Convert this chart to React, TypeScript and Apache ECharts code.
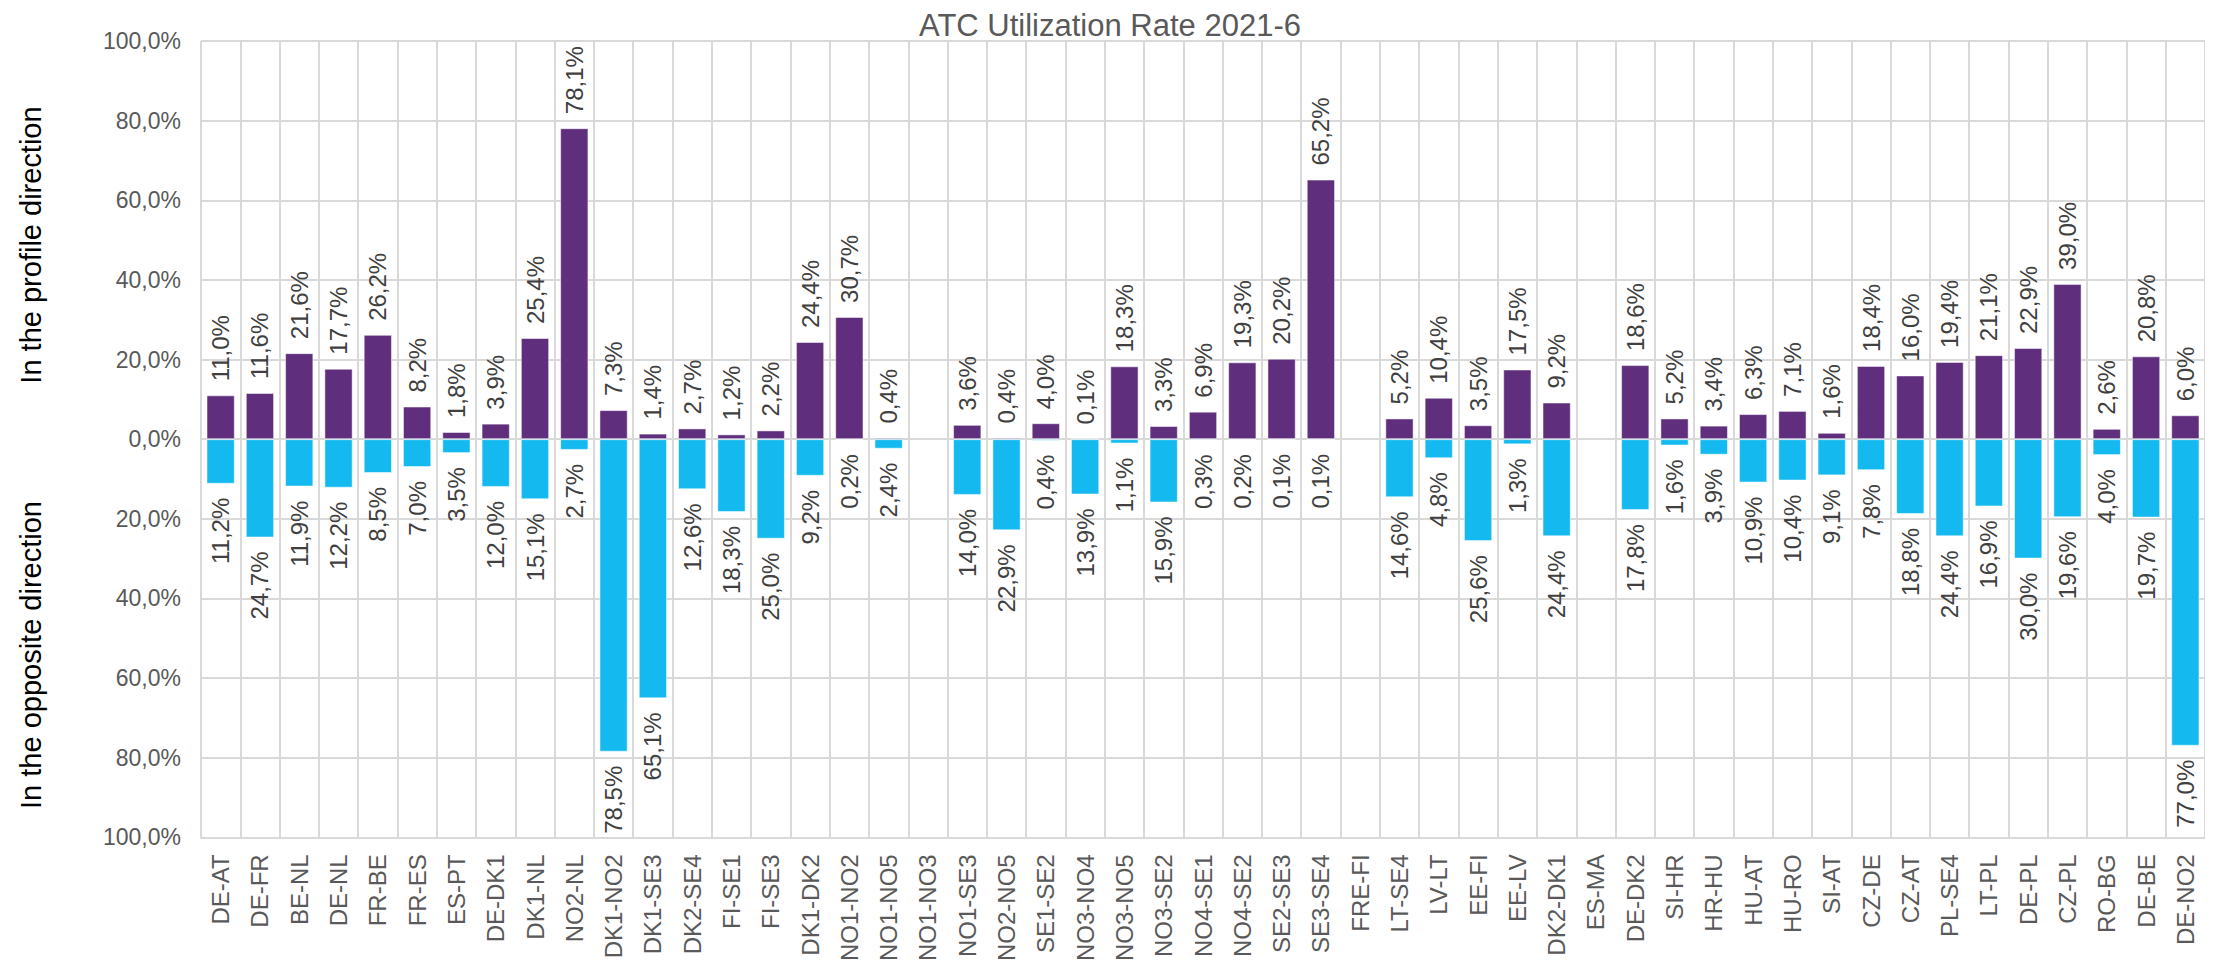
import React, { useEffect, useRef } from "react";
import * as echarts from "echarts";

const categories = [
  "DE-AT", "DE-FR", "BE-NL", "DE-NL", "FR-BE", "FR-ES", "ES-PT", "DE-DK1", "DK1-NL", "NO2-NL",
  "DK1-NO2", "DK1-SE3", "DK2-SE4", "FI-SE1", "FI-SE3", "DK1-DK2", "NO1-NO2", "NO1-NO5", "NO1-NO3", "NO1-SE3",
  "NO2-NO5", "SE1-SE2", "NO3-NO4", "NO3-NO5", "NO3-SE2", "NO4-SE1", "NO4-SE2", "SE2-SE3", "SE3-SE4", "FRE-FI",
  "LT-SE4", "LV-LT", "EE-FI", "EE-LV", "DK2-DK1", "ES-MA", "DE-DK2", "SI-HR", "HR-HU", "HU-AT",
  "HU-RO", "SI-AT", "CZ-DE", "CZ-AT", "PL-SE4", "LT-PL", "DE-PL", "CZ-PL", "RO-BG", "DE-BE", "DE-NO2",
];

// Utilization in the profile direction (%)
const profileDirection: (number | null)[] = [
  11.0, 11.6, 21.6, 17.7, 26.2, 8.2, 1.8, 3.9, 25.4, 78.1,
  7.3, 1.4, 2.7, 1.2, 2.2, 24.4, 30.7, 0.4, null, 3.6,
  0.4, 4.0, 0.1, 18.3, 3.3, 6.9, 19.3, 20.2, 65.2, null,
  5.2, 10.4, 3.5, 17.5, 9.2, null, 18.6, 5.2, 3.4, 6.3,
  7.1, 1.6, 18.4, 16.0, 19.4, 21.1, 22.9, 39.0, 2.6, 20.8, 6.0,
];

// Utilization in the opposite direction (%), drawn downward
const oppositeDirection: (number | null)[] = [
  11.2, 24.7, 11.9, 12.2, 8.5, 7.0, 3.5, 12.0, 15.1, 2.7,
  78.5, 65.1, 12.6, 18.3, 25.0, 9.2, 0.2, 2.4, null, 14.0,
  22.9, 0.4, 13.9, 1.1, 15.9, 0.3, 0.2, 0.1, 0.1, null,
  14.6, 4.8, 25.6, 1.3, 24.4, null, 17.8, 1.6, 3.9, 10.9,
  10.4, 9.1, 7.8, 18.8, 24.4, 16.9, 30.0, 19.6, 4.0, 19.7, 77.0,
];

const title = "ATC Utilization Rate 2021-6";
const upperAxisName = "In the profile direction";
const lowerAxisName = "In the opposite direction";

const PURPLE = "#5F2F7E";
const CYAN = "#14BAEF";
const GRID = "#D9D9D9";
const TEXT = "#595959";
const FONT = "'Liberation Sans', Arial, sans-serif";

const pct = (v: number) => Math.abs(v).toFixed(1).replace(".", ",") + "%";

export default function App() {
  const ref = useRef<HTMLDivElement>(null);

  useEffect(() => {
    if (!ref.current) return;
    const chart = echarts.init(ref.current, undefined, { renderer: "svg" });
    const labelBase = {
      show: true,
      rotate: 90,
      fontSize: 24,
      fontFamily: FONT,
      color: "#404040",
      verticalAlign: "middle" as const,
      distance: 14,
      formatter: (p: any) => (p.value == null ? "" : pct(p.value)),
    };
    chart.setOption({
      animation: false,
      textStyle: { fontFamily: FONT },
      title: {
        text: title,
        left: 1102,
        textAlign: "center",
        top: 2,
        padding: 0,
        textStyle: { fontSize: 31, lineHeight: 31, fontWeight: "normal", color: TEXT, fontFamily: FONT },
      },
      grid: { left: 193, right: 0, top: 33, bottom: 107, containLabel: false },
      xAxis: {
        type: "category",
        data: categories,
        boundaryGap: true,
        axisLine: { show: true, onZero: false, lineStyle: { color: GRID, width: 2 } },
        axisTick: { show: false },
        splitLine: { show: true, interval: 0, lineStyle: { color: GRID, width: 2 } },
        axisLabel: {
          interval: 0,
          rotate: 90,
          fontSize: 24,
          color: TEXT,
          margin: 17,
          fontFamily: FONT,
        },
      },
      yAxis: {
        type: "value",
        min: -100,
        max: 100,
        interval: 20,
        axisLine: { show: false },
        axisTick: { show: false },
        splitLine: { show: true, lineStyle: { color: GRID, width: 2 } },
        axisLabel: {
          fontSize: 23,
          color: TEXT,
          margin: 20,
          fontFamily: FONT,
          formatter: (v: number) => pct(v),
        },
      },
      graphic: [
        {
          type: "text",
          x: 23,
          y: 237,
          rotation: Math.PI / 2,
          style: {
            text: upperAxisName,
            fontSize: 29,
            fontFamily: FONT,
            fill: "#000000",
            textAlign: "center",
            textVerticalAlign: "middle",
          },
        },
        {
          type: "text",
          x: 23,
          y: 647,
          rotation: Math.PI / 2,
          style: {
            text: lowerAxisName,
            fontSize: 29,
            fontFamily: FONT,
            fill: "#000000",
            textAlign: "center",
            textVerticalAlign: "middle",
          },
        },
      ],
      series: [
        {
          name: upperAxisName,
          type: "bar",
          data: profileDirection,
          barWidth: "72%",
          barGap: "-100%",
          itemStyle: { color: PURPLE, borderColor: "rgba(255,255,255,0.5)", borderWidth: 1 },
          label: { ...labelBase, position: "top", align: "left" },
        },
        {
          name: lowerAxisName,
          type: "bar",
          data: oppositeDirection.map((v) => (v == null ? null : -v)),
          barWidth: "72%",
          barGap: "-100%",
          itemStyle: { color: CYAN, borderColor: "rgba(255,255,255,0.5)", borderWidth: 1 },
          label: { ...labelBase, position: "bottom", align: "right" },
        },
      ],
    });
    return () => chart.dispose();
  }, []);

  return <div ref={ref} style={{ width: 2197, height: 956 }} />;
}
